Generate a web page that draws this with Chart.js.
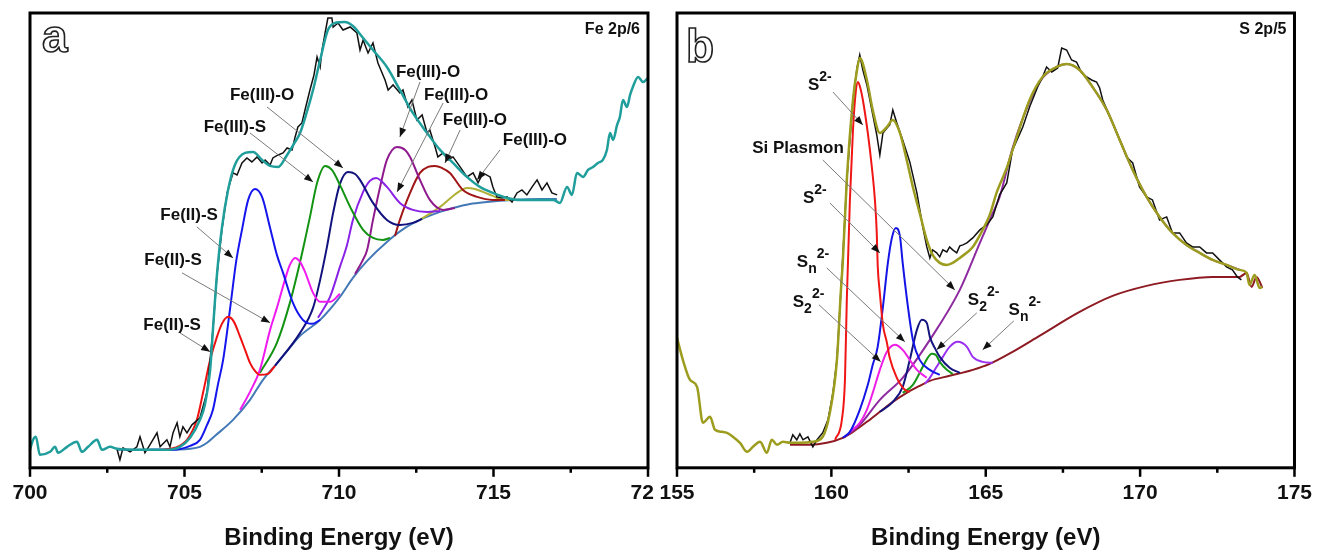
<!DOCTYPE html>
<html>
<head>
<meta charset="utf-8">
<script src="https://cdn.jsdelivr.net/npm/chart.js@4.4.1/dist/chart.umd.min.js"></script>
<style>
  body{margin:0;background:#fff;width:1317px;height:550px;overflow:hidden;position:relative}
  canvas{position:absolute;top:0}
  #cA{left:0;width:680px;height:550px}
  #cB{left:654px;width:663px;height:550px}
</style>
</head>
<body>
<canvas id="cA" width="680" height="550"></canvas>
<canvas id="cB" width="663" height="550"></canvas>
<script>
/* ============ Dados: Fe 2p (painel a) — [energia eV, intensidade u.a.] ============ */
const feRange = [700, 720];
const feRaw = [
  [702.82,18],[702.91,8],[703.01,20],[703.24,16],[703.46,21],[703.56,31],[703.72,15],[703.88,23],[704.11,35],[704.21,21],
  [704.43,28],[704.53,21],[704.63,35],[704.76,45],[704.85,31],[704.95,41],[705.08,35],[705.24,43],[705.50,50],[705.73,76],
  [705.92,138],[706.05,193],[706.21,238],[706.38,275],[706.47,285],[706.57,295],[706.70,293],[706.86,305],[707.02,310],[707.18,306],
  [707.35,311],[707.51,305],[707.61,308],[707.77,303],[707.86,310],[708.03,313],[708.19,315],[708.32,320],[708.48,318],[708.58,331],
  [708.67,341],[708.80,345],[708.90,358],[709.06,378],[709.19,393],[709.29,411],[709.39,401],[709.45,418],[709.55,435],[709.64,450],
  [709.77,450],[709.81,441],[709.97,445],[710.13,438],[710.36,441],[710.58,435],[710.68,418],[710.78,428],[710.94,415],[711.10,425],
  [711.26,405],[711.49,388],[711.59,378],[711.75,383],[711.97,375],[712.07,378],[712.23,361],[712.36,368],[712.52,348],[712.69,353],
  [712.85,335],[712.94,338],[713.11,321],[713.20,311],[713.37,315],[713.53,308],[713.69,311],[713.92,301],[714.14,291],[714.34,295],
  [714.50,285],[714.66,295],[714.89,291],[714.98,281],[715.11,271],[715.28,270],[715.44,271],[715.60,266],[715.76,275],[715.92,278],
  [716.08,273],[716.25,281],[716.41,288],[716.57,278],[716.73,285],[716.89,275],[717.06,273]
];
const feEnvelope = [
  [700.00,18],[700.10,28],[700.19,31],[700.32,13],[700.65,16],[700.81,21],[700.91,15],[701.20,21],[701.52,26],[701.68,16],
  [701.88,21],[702.17,28],[702.33,18],[702.59,21],[702.82,19],[703.56,18],[704.37,18],[704.85,21],[705.18,30],[705.50,48],
  [705.66,63],[705.83,98],[705.92,138],[706.05,193],[706.21,240],[706.41,278],[706.63,303],[706.96,315],[707.22,316],[707.51,308],
  [707.77,302],[708.03,301],[708.32,313],[708.58,326],[708.74,335],[708.96,356],[709.16,378],[709.39,408],[709.64,438],[709.87,445],
  [710.19,446],[710.45,442],[710.78,430],[711.10,418],[711.55,401],[711.97,378],[712.39,355],[712.85,335],[713.27,318],[713.69,305],
  [714.14,291],[714.56,281],[714.98,275],[715.44,270],[715.86,268],[716.93,268],[717.15,265],[717.38,281],[717.54,273],[717.70,295],
  [717.90,291],[718.06,298],[718.22,301],[718.38,305],[718.54,308],[718.67,318],[718.77,335],[718.87,328],[719.00,343],[719.09,351],
  [719.19,368],[719.32,361],[719.42,373],[719.51,381],[719.68,391],[719.84,386],[720.00,390]
];
const feBackground = [
  [702.85,18],[704.37,18],[705.18,19],[705.50,21],[705.73,25],[705.99,32],[706.57,48],[707.12,68],[707.54,88],[708.09,108],
  [708.74,132],[709.39,148],[710.03,171],[710.45,190],[710.91,207],[711.55,226],[712.14,240],[712.62,248],[713.27,256],[713.69,260],
  [714.24,264],[714.79,266],[715.63,268],[716.50,269],[717.05,269]
];
const feII_S1 = [[704.21,18],[704.69,20],[705.08,28],[705.40,48],[705.60,75],[705.83,108],[706.05,131],[706.21,144],[706.41,151],[706.60,146],[706.80,131],[706.96,118],[707.12,105],[707.28,97],[707.44,93],[707.70,94],[707.93,102]];
const feII_S2 = [[703.88,18],[704.63,18],[705.18,22],[705.50,28],[705.73,43],[705.92,58],[706.08,83],[706.25,108],[706.47,158],[706.67,206],[706.86,238],[707.06,268],[707.28,279],[707.51,271],[707.77,240],[707.99,213],[708.19,195],[708.51,165],[708.83,148],[709.13,144],[709.39,148]];
const feII_S3 = [[706.80,58],[707.12,76],[707.44,98],[707.77,138],[707.99,160],[708.25,188],[708.41,203],[708.58,210],[708.74,206],[708.90,196],[709.16,175],[709.39,166],[709.71,166],[710.03,174]];
const feIII_S = [[707.44,95],[707.99,125],[708.41,165],[708.74,206],[708.90,228],[709.06,251],[709.29,285],[709.55,302],[709.77,298],[710.03,283],[710.36,261],[710.78,238],[711.10,230],[711.42,228],[711.65,230]];
const feIII_O1 = [[707.93,102],[708.74,135],[709.16,160],[709.39,188],[709.61,221],[709.81,255],[710.03,284],[710.29,296],[710.52,294],[710.68,288],[711.10,265],[711.55,248],[711.97,243],[712.39,245],[712.69,249]];
const feIII_O2 = [[709.32,150],[709.71,171],[710.03,201],[710.26,223],[710.45,248],[710.78,276],[711.00,287],[711.20,290],[711.55,281],[711.97,265],[712.39,258],[712.85,256],[713.27,257]];
const feIII_O3 = [[710.52,194],[710.74,206],[710.91,218],[711.10,248],[711.33,281],[711.55,308],[711.88,321],[712.14,318],[712.30,311],[712.62,288],[712.94,268],[713.37,258],[713.75,260]];
const feIII_O4 = [[711.81,232],[711.97,248],[712.30,275],[712.62,295],[712.88,301],[713.11,302],[713.33,300],[713.59,295],[714.01,278],[714.47,271],[714.98,268],[715.37,268]];
const feIII_O5 = [[712.62,248],[713.27,261],[713.69,272],[713.92,277],[714.14,280],[714.40,279],[714.66,276],[714.98,272],[715.31,268],[715.63,268]];

/* ============ Dados: S 2p (painel b) ============ */
const sRange = [155, 175];
const sRaw = [
  [158.66,25],[158.75,33],[158.88,28],[158.98,34],[159.08,28],[159.24,31],[159.40,21],[159.53,28],[159.72,35],[159.89,48],
  [160.05,75],[160.18,108],[160.31,178],[160.40,228],[160.50,288],[160.70,368],[160.83,400],[160.92,413],[161.02,398],[161.15,383],
  [161.31,358],[161.47,333],[161.57,313],[161.67,335],[161.80,340],[161.89,343],[161.99,358],[162.12,345],[162.31,328],[162.54,306],
  [162.77,275],[162.96,241],[163.09,221],[163.19,210],[163.28,218],[163.41,215],[163.51,211],[163.61,218],[163.74,216],[163.83,221],
  [163.93,218],[164.06,215],[164.16,222],[164.26,223],[164.39,225],[164.58,230],[164.81,238],[165.03,243],[165.23,251],[165.45,273],
  [165.68,285],[165.87,318],[166.20,341],[166.42,361],[166.68,381],[166.84,391],[166.97,401],[167.14,396],[167.33,400],[167.46,420],
  [167.62,418],[167.78,408],[167.94,406],[168.11,395],[168.27,391],[168.43,388],[168.59,386],[168.69,380],[168.79,368],[169.11,345],
  [169.34,328],[169.56,311],[169.76,305],[169.98,281],[170.21,271],[170.40,268],[170.63,248],[170.86,251],[171.05,235],[171.28,235],
  [171.50,225],[171.70,221],[171.93,221],[172.15,215],[172.35,215],[172.57,208],[172.80,201],[172.99,198],[173.15,191],[173.28,188]
];
const sEnvelope = [
  [155.00,130],[155.19,108],[155.42,88],[155.65,81],[155.84,45],[156.07,51],[156.23,38],[156.46,36],[156.62,35],[156.81,31],
  [157.04,25],[157.27,16],[157.46,21],[157.69,26],[157.91,15],[158.07,28],[158.24,23],[158.43,26],[158.66,25],[158.98,25],
  [159.40,26],[159.72,31],[159.95,55],[160.18,108],[160.31,178],[160.37,206],[160.50,288],[160.70,368],[160.83,398],[160.92,410],
  [161.15,388],[161.34,358],[161.57,335],[161.80,341],[161.99,348],[162.22,335],[162.44,308],[162.64,281],[162.86,255],[163.09,228],
  [163.28,213],[163.51,205],[163.74,203],[163.93,205],[164.16,210],[164.58,221],[164.90,238],[165.13,253],[165.36,276],[165.68,300],
  [165.87,318],[166.42,368],[166.84,391],[167.30,401],[167.62,404],[168.04,398],[168.46,381],[168.92,358],[169.34,328],[169.76,298],
  [170.21,271],[170.63,251],[171.05,235],[171.50,223],[171.93,215],[172.35,208],[172.80,203],[173.22,198],[173.45,195],[173.54,183],
  [173.71,193],[173.87,180],[173.96,181]
];
const sBackground = [
  [158.66,23],[159.30,23],[159.85,25],[160.37,30],[160.70,36],[161.15,46],[161.57,56],[161.99,66],[162.44,75],[162.86,82],
  [163.19,87],[163.83,92],[164.58,98],[165.13,104],[165.87,116],[166.74,132],[168.04,156],[169.11,172],[170.21,182],[171.28,188],
  [172.35,191],[173.22,191],[173.45,195],[173.61,181],[173.77,191],[173.96,180]
];
const s2minus_1 = [[160.12,28],[160.34,48],[160.44,88],[160.50,168],[160.60,268],[160.70,338],[160.79,376],[160.86,386],[160.92,382],[161.02,368],[161.18,335],[161.31,301],[161.41,268],[161.47,235],[161.50,203],[161.57,175],[161.67,143],[161.80,125],[161.89,110],[162.12,90],[162.38,78],[162.54,76]];
const s2minus_2 = [[160.37,30],[160.60,36],[160.92,58],[161.18,83],[161.34,103],[161.50,121],[161.67,161],[161.83,205],[161.96,230],[162.09,240],[162.22,232],[162.31,205],[162.48,161],[162.64,128],[162.86,108],[163.19,98],[163.51,93]];
const s22minus_1 = [[160.60,36],[160.92,45],[161.15,58],[161.34,75],[161.57,98],[161.80,116],[162.06,123],[162.31,118],[162.54,108],[162.77,98],[163.09,90]];
const sn2minus_1 = [[161.57,56],[161.99,66],[162.31,81],[162.54,108],[162.77,138],[162.93,148],[163.09,145],[163.19,131],[163.35,120],[163.51,111],[163.83,100],[164.16,95]];
const s22minus_2 = [[162.31,75],[162.64,83],[162.96,101],[163.12,110],[163.25,114],[163.38,113],[163.51,106],[163.74,98],[163.93,94]];
const sn2minus_2 = [[163.03,84],[163.19,90],[163.41,101],[163.61,111],[163.83,121],[164.09,126],[164.39,121],[164.58,111],[164.90,106],[165.23,105]];
const siPlasmon = [
  [160.44,31],[160.92,43],[161.57,68],[162.31,90],[163.19,128],[164.16,178],[164.81,225],[165.23,255],[165.45,271],[165.87,320],
  [166.42,366],[166.84,390],[167.30,401],[167.62,404],[168.04,398],[168.46,381],[168.92,358],[169.34,328],[169.76,298],[170.21,271],
  [170.63,251],[171.05,235],[171.50,223],[171.93,215],[172.35,208],[172.80,203],[173.22,198]
];

/* ============ Rótulos com setas ============ */
const feNotes = [
  { parts:[['Fe(III)-O',0]], at:[707.51,373], from:[707.67,361], to:[710.13,300] },
  { parts:[['Fe(III)-S',0]], at:[706.63,341], from:[707.12,335], to:[709.16,286] },
  { parts:[['Fe(II)-S',0]],  at:[705.15,253], from:[705.40,241], to:[706.57,210] },
  { parts:[['Fe(II)-S',0]],  at:[704.63,208], from:[704.92,195], to:[707.77,145] },
  { parts:[['Fe(II)-S',0]],  at:[704.60,143], from:[704.85,135], to:[705.83,116] },
  { parts:[['Fe(III)-O',0]], at:[712.88,396], from:[712.62,386], to:[711.97,331] },
  { parts:[['Fe(III)-O',0]], at:[713.79,373], from:[713.37,365], to:[711.88,276] },
  { parts:[['Fe(III)-O',0]], at:[714.40,348], from:[713.92,338], to:[713.43,305] },
  { parts:[['Fe(III)-O',0]], at:[716.34,328], from:[715.21,318], to:[714.47,288] }
];
const sNotes = [
  { parts:[['S',0],['2-',1]], left:true, at:[159.24,383], from:[160.05,376], to:[161.02,343] },
  { parts:[['Si Plasmon',0]], at:[158.92,320], from:[159.72,308], to:[164.00,178] },
  { parts:[['S',0],['2-',1]], left:true, at:[159.08,270], from:[159.95,265], to:[161.57,215] },
  { parts:[['S',0],['n',-1],['2-',1]], left:true, at:[158.88,206], from:[159.85,200], to:[162.38,126] },
  { parts:[['S',0],['2',-1],['2-',1]], left:true, at:[158.75,166], from:[159.60,163], to:[161.60,106] },
  { parts:[['S',0],['2',-1],['2-',1]], left:true, at:[164.42,168], from:[164.71,155], to:[163.41,118] },
  { parts:[['S',0],['n',-1],['2-',1]], left:true, at:[165.74,158], from:[165.91,147], to:[164.90,118] }
];

/* ============ Helpers ============ */
const FONT = '"Liberation Sans", Arial, sans-serif';

function curva(pares, cor, largura, suave){
  return {
    data: pares.map(([x,y]) => ({x, y})),
    borderColor: cor, borderWidth: largura,
    pointRadius: 0, fill: false, tension: 0,
    cubicInterpolationMode: suave ? 'monotone' : 'default'
  };
}

function desenhaPartes(ctx, parts, x, y, centro, tam){
  const fontMain = `bold ${tam}px ${FONT}`, fontScript = `bold ${tam-3}px ${FONT}`;
  let w = 0;
  parts.forEach(([t,k]) => { ctx.font = k ? fontScript : fontMain; w += ctx.measureText(t).width; });
  let cx = centro ? x - w/2 : x;
  parts.forEach(([t,k]) => {
    ctx.font = k ? fontScript : fontMain;
    ctx.fillText(t, cx, y + (k < 0 ? 7 : k > 0 ? -8 : 0));
    cx += ctx.measureText(t).width;
  });
}

const painelPlugin = {
  id: 'painel',
  beforeDraw(chart, args, o){
    if(!o.fundo) return;
    const c = chart.ctx; c.save(); c.fillStyle = '#fff'; c.fillRect(0, 0, chart.width, chart.height); c.restore();
  },
  afterDraw(chart, args, o){
    const {ctx, chartArea: a, scales: {x, y}} = chart;
    ctx.save();
    // setas + textos
    ctx.textBaseline = 'middle'; ctx.textAlign = 'left'; ctx.fillStyle = '#111';
    o.notes.forEach(n => {
      const x1 = x.getPixelForValue(n.from[0]), y1 = y.getPixelForValue(n.from[1]);
      const x2 = x.getPixelForValue(n.to[0]),   y2 = y.getPixelForValue(n.to[1]);
      ctx.strokeStyle = '#7a7a7a'; ctx.lineWidth = 1;
      ctx.beginPath(); ctx.moveTo(x1, y1); ctx.lineTo(x2, y2); ctx.stroke();
      const ang = Math.atan2(y2 - y1, x2 - x1);
      ctx.beginPath();
      ctx.moveTo(x2, y2);
      ctx.lineTo(x2 - 9*Math.cos(ang) + 3.5*Math.sin(ang), y2 - 9*Math.sin(ang) - 3.5*Math.cos(ang));
      ctx.lineTo(x2 - 9*Math.cos(ang) - 3.5*Math.sin(ang), y2 - 9*Math.sin(ang) + 3.5*Math.cos(ang));
      ctx.closePath(); ctx.fill();
      desenhaPartes(ctx, n.parts, x.getPixelForValue(n.at[0]), y.getPixelForValue(n.at[1]), !n.left, o.tamNota);
    });
    // moldura
    ctx.strokeStyle = '#000'; ctx.lineWidth = 3;
    ctx.strokeRect(a.left, a.top, a.right - a.left, a.bottom - a.top);
    // ticks maiores/menores
    ctx.lineWidth = 2.5;
    const n = Math.round((x.max - x.min) / o.passoMenor);
    for(let i = 0; i <= n; i++){
      const px = x.getPixelForValue(x.min + i*o.passoMenor);
      ctx.beginPath(); ctx.moveTo(px, a.bottom); ctx.lineTo(px, a.bottom + (i % 2 === 0 ? 9 : 5)); ctx.stroke();
    }
    // etiqueta do espectro
    ctx.font = `bold 16px ${FONT}`; ctx.textAlign = 'right'; ctx.fillStyle = '#111';
    ctx.fillText(o.etiqueta, a.right - 8, a.top + 17);
    // letra do painel (vazada)
    ctx.font = `bold 46px ${FONT}`; ctx.textAlign = 'left'; ctx.textBaseline = 'alphabetic';
    ctx.strokeStyle = '#222'; ctx.lineWidth = 1.6;
    ctx.strokeText(o.letra, a.left + o.letraDx, a.top + o.letraDy);
    ctx.restore();
  }
};

function opcoes(range, padding, painel){
  return {
    responsive: false, maintainAspectRatio: false, animation: false, events: [],
    layout: { padding },
    plugins: { legend: { display: false }, tooltip: { enabled: false }, painel },
    scales: {
      x: {
        type: 'linear', min: range[0], max: range[1],
        grid: { display: false, drawTicks: true, tickLength: 8 },
        border: { display: false },
        ticks: { stepSize: 5, autoSkip: false, maxRotation: 0, padding: 5, color: '#111',
                 font: { family: FONT, size: 21, weight: 'bold' } },
        title: { display: true, text: 'Binding Energy (eV)', color: '#111', padding: { top: 15, bottom: 0 },
                 font: { family: FONT, size: 24, weight: 'bold', lineHeight: 1 } }
      },
      y: { display: false, min: 0, max: 455 }
    }
  };
}

/* ============ Painel a ============ */
new Chart(document.getElementById('cA'), {
  type: 'line',
  data: { datasets: [
    curva(feEnvelope, '#1f9e9b', 2.5, true),
    curva(feRaw, '#111111', 1.5, false),
    curva(feII_S1, '#ee1111', 2, true),
    curva(feII_S2, '#1515ee', 2, true),
    curva(feII_S3, '#f01af0', 2, true),
    curva(feIII_S, '#129312', 2, true),
    curva(feIII_O1, '#12127e', 2, true),
    curva(feIII_O2, '#8a22e6', 2, true),
    curva(feIII_O3, '#8e1a8e', 2, true),
    curva(feIII_O4, '#a01515', 2, true),
    curva(feIII_O5, '#b0b036', 2, true),
    curva(feBackground, '#4479b8', 2, true)
  ]},
  options: opcoes(feRange, { left: 30, right: 32, top: 13, bottom: 0 },
    { notes: feNotes, tamNota: 17, passoMenor: 2.5, etiqueta: 'Fe 2p/6', letra: 'a', letraDx: 12, letraDy: 39, fundo: false }),
  plugins: [painelPlugin]
});

/* ============ Painel b ============ */
new Chart(document.getElementById('cB'), {
  type: 'line',
  data: { datasets: [
    curva(sEnvelope, '#9c9c1e', 2.5, true),
    curva(sRaw, '#111111', 1.5, false),
    curva(s2minus_1, '#f01616', 2, true),
    curva(s2minus_2, '#1414e6', 2, true),
    curva(s22minus_1, '#ee1ee6', 2, true),
    curva(sn2minus_1, '#14147e', 2, true),
    curva(s22minus_2, '#169616', 2, true),
    curva(sn2minus_2, '#9b30f0', 2, true),
    curva(siPlasmon, '#8e2aa0', 2, true),
    curva(sBackground, '#8e1a22', 2, true)
  ]},
  options: opcoes(sRange, { left: 23, right: 22, top: 13, bottom: 0 },
    { notes: sNotes, tamNota: 17, passoMenor: 2.5, etiqueta: 'S 2p/5', letra: 'b', letraDx: 9, letraDy: 49, fundo: true }),
  plugins: [painelPlugin]
});
</script>
</body>
</html>
